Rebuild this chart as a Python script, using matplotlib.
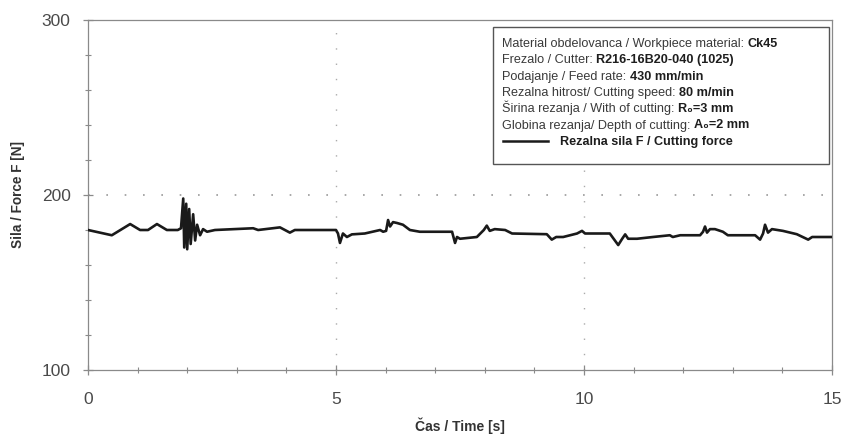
import matplotlib
matplotlib.use("Agg")
import matplotlib.pyplot as plt
from matplotlib.ticker import MultipleLocator
from matplotlib.text import Annotation
from matplotlib.patches import Rectangle

plt.rcParams['font.family'] = ['Liberation Sans', 'DejaVu Sans']

# Data
time_s = [0.0, 0.48, 0.85, 1.05, 1.21, 1.39, 1.59, 1.81, 1.875, 1.92, 1.94, 1.98, 2.0, 2.04,
          2.07, 2.12, 2.16, 2.20, 2.26, 2.32, 2.40, 2.56, 3.33, 3.43, 3.87, 3.97, 4.07, 4.17,
          5.0, 5.04, 5.08, 5.14, 5.22, 5.32, 5.58, 5.89, 5.95, 6.01, 6.05, 6.09, 6.15, 6.23,
          6.35, 6.49, 6.69, 7.34, 7.40, 7.44, 7.50, 7.84, 7.98, 8.04, 8.10, 8.20, 8.41, 8.55,
          9.25, 9.35, 9.44, 9.58, 9.86, 9.96, 10.02, 10.52, 10.69, 10.77, 10.83, 10.89, 11.07,
          11.39, 11.73, 11.79, 11.94, 12.34, 12.40, 12.44, 12.48, 12.54, 12.64, 12.80, 12.90,
          13.45, 13.55, 13.61, 13.65, 13.71, 13.79, 14.01, 14.29, 14.52, 14.60, 14.70, 15.0]
force_n = [180, 177, 183.4, 180, 180, 183.4, 180, 180, 181, 198, 170, 195, 169, 192,
           172, 189, 174, 183, 177, 180.5, 179, 180, 181, 180, 181.5, 180, 178.5, 180,
           180, 178, 172.6, 178, 176, 177.5, 178, 180, 179, 179.5, 185.7, 182, 184.5, 184,
           183, 180, 179, 179, 172.6, 176, 175, 176, 180, 182.5, 179.5, 180.5, 180, 178,
           177.6, 174.5, 176, 176, 178, 179.5, 178, 178, 171.4, 175, 177.5, 175, 175,
           176, 177, 176, 177, 177, 179, 182, 178.5, 180.5, 180.5, 179, 177,
           177, 174.5, 178, 183, 178.5, 180.5, 179.5, 177.6, 174.5, 176, 176, 176]

info_labels = ["Material obdelovanca / Workpiece material: ",
               "Frezalo / Cutter: ",
               "Podajanje / Feed rate: ",
               "Rezalna hitrost/ Cutting speed: ",
               "Širina rezanja / With of cutting: ",
               "Globina rezanja/ Depth of cutting: "]
info_values = ["Ck45",
               "R216-16B20-040 (1025)",
               "430 mm/min",
               "80 m/min",
               "R\u2080=3 mm",
               "A\u2080=2 mm"]
series_label = "Rezalna sila F / Cutting force"
x_label = "Čas / Time [s]"
y_label = "Sila / Force F [N]"

W, H = 845, 438
fig = plt.figure(figsize=(W / 100, H / 100), dpi=100)
ax = fig.add_axes([88 / W, 1 - 370 / H, (832 - 88) / W, (370 - 20) / H])

ax.plot(time_s, force_n, color='#1a1a1a', lw=1.9, solid_joinstyle='round', zorder=3)

ax.set_xlim(0, 15)
ax.set_ylim(100, 300)
ax.xaxis.set_major_locator(MultipleLocator(5))
ax.xaxis.set_minor_locator(MultipleLocator(1))
ax.yaxis.set_major_locator(MultipleLocator(100))
ax.yaxis.set_minor_locator(MultipleLocator(20))

spine_col = '#8a8a8a'
for s in ax.spines.values():
    s.set_color(spine_col)
    s.set_linewidth(0.9)

ax.tick_params(axis='both', which='major', direction='inout', length=7, width=0.9,
               color=spine_col, labelsize=12.5, labelcolor='#4a4a4a')
ax.tick_params(axis='both', which='minor', direction='inout', length=4, width=0.8,
               color=spine_col)
ax.tick_params(axis='x', which='major', pad=12)
ax.tick_params(axis='y', which='major', pad=9)

# dotted grid at 200 and at x=5, 10
ax.axhline(200, color='#999999', lw=1.2, ls=(0, (1, 10)), zorder=1)
for xv in (5, 10):
    ax.axvline(xv, color='#aaaaaa', lw=1.0, ls=(0, (1, 10)), zorder=1)

ax.set_xlabel(x_label, fontsize=10, fontweight='bold', color='#333333', labelpad=8)
ax.set_ylabel(y_label, fontsize=9.8, fontweight='bold', color='#333333', labelpad=12)

# information box
bx0, by0, bx1, by1 = 493, 27, 829, 164
rect = Rectangle((bx0 / W, 1 - by1 / H), (bx1 - bx0) / W, (by1 - by0) / H,
                 transform=fig.transFigure, facecolor='white', edgecolor='#555555',
                 lw=1.0, zorder=5)
fig.add_artist(rect)

fs = 9.1
tcol = '#3a3a3a'
y0 = 47
dy = 16.3
for i, (lab, val) in enumerate(zip(info_labels, info_values)):
    yy = 1 - (y0 + i * dy) / H
    t = fig.text(502 / W, yy, lab, fontsize=fs, color=tcol, va='baseline', ha='left', zorder=6)
    ann = Annotation(val, xy=(1, 0), xycoords=t, fontsize=fs, fontweight='bold',
                     color='#1e1e1e', va='bottom', ha='left', zorder=6,
                     annotation_clip=False)
    fig.add_artist(ann)
yy = 1 - (y0 + 6 * dy) / H
fig.add_artist(plt.Line2D([503 / W, 548 / W], [yy + 3.5 / H, yy + 3.5 / H], color='#1a1a1a',
                          lw=1.8, transform=fig.transFigure, zorder=6))
fig.text(560 / W, yy, series_label, fontsize=fs, fontweight='bold', color='#1e1e1e',
         va='baseline', ha='left', zorder=6)

fig.savefig('out.png', dpi=100, facecolor='white')
